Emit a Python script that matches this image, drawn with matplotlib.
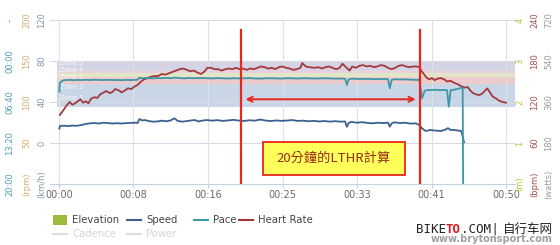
import matplotlib
matplotlib.use("Agg")
import matplotlib.pyplot as plt
from matplotlib.lines import Line2D
from matplotlib.patches import Rectangle
from matplotlib.transforms import blended_transform_factory

# ----------------------------------------
#  Data (time in minutes)
# ----------------------------------------
hr_t = [0.1, 0.5, 0.8, 1.2, 1.5, 1.8, 2.1, 2.4, 2.7, 3.0, 3.3, 3.6, 4.0, 4.3, 4.6,
        5.0, 5.3, 5.7, 6.0, 6.3, 6.7, 7.0, 7.4, 7.7, 8.1, 8.5, 8.8, 9.1, 9.5, 9.9,
        10.3, 10.7, 11.1, 11.5, 11.9, 12.3, 12.7, 13.1, 13.5, 13.9, 14.3, 14.7, 15.1,
        15.5, 15.9, 16.3, 16.6, 17.0, 17.4, 17.8, 18.2, 18.6, 19.0, 19.4, 19.8, 20.2,
        20.6, 21.0, 21.4, 21.8, 22.2, 22.6, 23.0, 23.4, 23.8, 24.2, 24.6, 25.0, 25.4,
        25.8, 26.2, 26.6, 27.0, 27.2, 27.6, 28.0, 28.6, 29.0, 29.4, 29.8, 30.2, 30.6,
        31.0, 31.4, 31.7, 32.1, 32.5, 32.8, 33.2, 33.6, 34.0, 34.4, 34.8, 35.2, 35.6,
        36.0, 36.4, 36.8, 37.2, 37.6, 38.0, 38.4, 38.8, 39.2, 39.6, 40.0, 40.3, 40.5,
        40.8, 41.1, 41.4, 41.7, 42.0, 42.3, 42.7, 43.1, 43.4, 43.8, 44.2, 44.6, 45.0,
        45.4, 45.7, 46.0, 46.3, 46.7, 47.0, 47.3, 47.6, 47.9, 48.2, 48.5, 48.9, 49.2,
        49.6, 50.0]
hr_bpm = [101, 108, 114, 120, 116, 118, 121, 124, 119, 121, 118, 125, 127, 126, 131,
          134, 136, 133, 135, 139, 137, 134, 137, 140, 139, 143, 145, 149, 153, 155,
          157, 158, 158, 161, 160, 162, 164, 166, 168, 169, 167, 165, 166,
          163, 161, 165, 170, 170, 168, 168, 166, 168, 169, 168, 170, 168,
          169, 167, 169, 168, 170, 172, 171, 169, 170, 168, 171, 172, 170,
          169, 167, 168, 170, 177, 172, 171, 170, 171, 169, 171, 172, 170,
          168, 170, 176, 171, 166, 172, 170, 173, 174, 172, 173, 171, 172,
          174, 173, 170, 168, 170, 173, 174, 172, 171, 172, 172, 171, 166,
          161, 156, 153, 155, 152, 154, 155, 153, 150, 151, 148, 146, 143,
          141, 142, 137, 133, 131, 130, 132, 136, 140, 134, 128, 125, 122,
          120, 119]

pace_t = [0.05, 0.1, 0.4, 0.8, 1.2, 1.6, 2.0, 2.5, 3.0, 3.5, 4.0, 4.5, 5.0, 5.5, 6.0,
          6.5, 7.0, 7.5, 8.0, 8.5, 8.8, 9.0, 9.3, 9.6, 10.0, 10.5, 11.0, 11.5, 12.0,
          12.5, 13.0, 13.5, 14.0, 14.5, 15.0, 15.5, 16.0, 16.5, 17.1, 17.7, 18.3, 18.9,
          19.5, 20.1, 20.7, 21.3, 21.9, 22.5, 23.1, 23.7, 24.3, 24.9, 25.5, 26.1, 26.7,
          27.3, 27.9, 28.5, 29.1, 29.7, 30.3, 30.9, 31.5, 32.0, 32.2, 32.4, 32.7, 33.3,
          33.9, 34.5, 35.1, 35.7, 36.3, 36.8, 37.0, 37.2, 37.5, 38.1, 38.7, 39.3, 39.9,
          40.2, 40.3, 40.6, 40.9, 41.2, 41.6, 42.0, 42.5, 43.0, 43.4, 43.6, 43.8, 44.2,
          44.6, 45.0, 45.15, 45.2]
pace_s = [300, 215, 190, 186, 184, 187, 185, 186, 184, 186, 183, 185, 186, 184, 186,
          185, 187, 185, 186, 184, 183, 162, 170, 166, 168, 170, 166, 168, 165,
          168, 162, 166, 170, 166, 168, 167, 166, 168, 170, 167, 169, 171,
          168, 170, 169, 167, 170, 172, 169, 168, 170, 171, 168, 169, 171,
          168, 169, 171, 170, 168, 170, 172, 171, 173, 232, 180, 172, 174,
          176, 174, 176, 178, 175, 177, 266, 185, 178, 180, 179, 182, 184,
          185, 175, 364, 290, 283, 285, 280, 284, 282, 285, 446, 285, 280,
          272, 262, 262, 1190]

speed_t = [0.05, 0.1, 0.5, 1.0, 1.5, 2.0, 2.5, 3.0, 3.5, 4.0, 4.5, 5.0, 5.5, 6.0, 6.5,
           7.0, 7.5, 8.0, 8.5, 8.8, 9.0, 9.3, 9.6, 10.0, 10.5, 11.0, 11.5, 12.0, 12.5,
           12.9, 13.3, 13.8, 14.3, 14.8, 15.2, 15.6, 16.0, 16.5, 17.1, 17.7, 18.3, 18.9,
           19.5, 20.1, 20.7, 21.3, 21.9, 22.5, 23.1, 23.7, 24.3, 24.9, 25.5, 26.1, 26.7,
           27.3, 27.9, 28.5, 29.1, 29.7, 30.3, 30.9, 31.5, 32.0, 32.2, 32.4, 32.7, 33.3,
           33.9, 34.5, 35.1, 35.7, 36.3, 36.8, 37.0, 37.2, 37.5, 38.1, 38.7, 39.3, 39.9,
           40.3, 40.6, 41.0, 41.5, 42.0, 42.7, 43.2, 43.5, 43.8, 44.2, 44.6, 45.0, 45.3]
speed_kmh = [14.0, 16.5, 16.9, 16.5, 17.0, 16.8, 17.5, 18.6, 19.2, 19.5, 19.0, 19.8, 19.4,
             19.0, 19.3, 19.0, 19.4, 19.6, 19.8, 19.5, 23.4, 22.0, 22.4, 21.5, 20.8, 21.0,
             21.8, 21.2, 22.0, 24.1, 21.5, 20.8, 21.4, 22.0, 22.4, 21.0, 21.8, 22.4, 21.8,
             22.3, 21.6, 22.0, 22.6, 21.9, 21.5, 22.2, 21.8, 22.9, 21.9, 21.4, 22.0, 21.6,
             21.9, 22.4, 21.5, 21.8, 21.2, 21.6, 21.0, 21.4, 20.9, 21.3, 20.8, 21.0, 15.9,
             19.5, 20.6, 19.8, 20.3, 19.6, 19.2, 19.8, 19.4, 19.9, 15.9, 19.0, 20.2, 19.5,
             19.8, 18.9, 19.2, 17.6, 14.3, 11.7, 12.7, 12.2, 11.7, 13.0, 14.5, 12.7, 12.7,
             12.2, 11.7, 0.7]

# heart rate zones (bpm)
zone_names = ["Zone 1", "Zone 2", "Zone 3", "Zone 4", "Zone 5"]
zone_low = [113, 147, 156, 163, 167]
zone_high = [147, 156, 163, 167, 178]
zone_colors = ["#c9d6e8", "#eecbcd", "#e3e6c6", "#e4d3de", "#d5d4e7"]
zone_label_y = [126, 142, 156.6, 166.8, 177]

# axis ticks
time_ticks = [0, 8.333, 16.667, 25, 33.333, 41.667, 50]
time_labels = ["00:00", "00:08", "00:16", "00:25", "00:33", "00:41", "00:50"]
pace_ticks = [-400, 0, 400, 800, 1200]
pace_labels = ["-", "00:00", "06:40", "13:20", "20:00"]
cad_ticks = [0, 50, 100, 150, 200]
cad_labels = ["(rpm)", "50", "100", "150", "200"]
speed_ticks = [-40, 0, 40, 80, 120]
speed_labels = ["(km/h)", "0", "40", "80", "120"]
elev_ticks = [0, 1, 2, 3, 4]
elev_labels = ["(m)", "1", "2", "3", "4"]
hr_ticks = [0, 60, 120, 180, 240]
hr_labels = ["(bpm)", "60", "120", "180", "240"]
watt_ticks = [0, 180, 360, 540, 720]
watt_labels = ["(watts)", "180", "360", "540", "720"]

# LTHR window
lthr_start = 20.35
lthr_end = 40.4

C_SPEED = "#3b6190"
C_PACE = "#3a98a8"
C_HR = "#a23a3d"
C_ELEV = "#9dbb3a"
C_RED = "#e8261e"
W, H = 560, 245


def fx(x):
    return x / W


def fy(y):
    return 1 - y / H


fig = plt.figure(figsize=(W / 100, H / 100), dpi=100)
ax = fig.add_axes([fx(50), fy(184), (515 - 50) / W, (184 - 20) / H])
ax.set_xlim(-1.0, 51.0)
ax.set_ylim(0, 240)

ax_speed = ax.twinx()
ax_speed.set_ylim(-40, 120)
ax_pace = ax.twinx()
ax_pace.set_ylim(1200, -400)
ax_cad = ax.twinx()
ax_cad.set_ylim(0, 200)
ax_elev = ax.twinx()
ax_elev.set_ylim(0, 4)
ax_watt = ax.twinx()
ax_watt.set_ylim(0, 720)
ax_top = ax.twinx()
ax_top.set_ylim(0, 240)

for a in [ax, ax_speed, ax_pace, ax_cad, ax_elev, ax_watt, ax_top]:
    for s in a.spines.values():
        s.set_visible(False)
    a.set_yticks([])

# zone bands
for lo, hi, c in zip(zone_low, zone_high, zone_colors):
    ax.axhspan(lo, hi, xmin=0.015, xmax=1, color=c, lw=0, zorder=0)
for name, yv in zip(zone_names, zone_label_y):
    ax.text(0.15, yv, name, color="white", alpha=0.85, fontsize=4.8, ha="left",
            va="center", zorder=1)

# grid
for yv in hr_ticks[1:]:
    ax.axhline(yv, color="#d6dbe1", lw=0.8, zorder=0.5)
for xv in time_ticks:
    ax.axvline(xv, color="#dde1e6", lw=0.8, zorder=0.5)
ax.spines["bottom"].set_visible(True)
ax.spines["bottom"].set_color("#c4d2df")
ax.set_xticks(time_ticks)
ax.set_xticklabels(time_labels)
ax.tick_params(axis="x", length=3, color="#c4d2df", labelsize=7,
               labelcolor="#6a6a6a", pad=1.5)

# series
ax.plot(hr_t, hr_bpm, color=C_HR, lw=1.3, zorder=3)
ax_speed.plot(speed_t, speed_kmh, color=C_SPEED, lw=1.3)
ax_pace.plot(pace_t, pace_s, color=C_PACE, lw=1.3)

# axis label columns (rotated)
columns = [
    (ax_pace, pace_ticks, pace_labels, 10, "#4f9cad"),
    (ax_cad, cad_ticks, cad_labels, 27, "#d9ad72"),
    (ax_speed, speed_ticks, speed_labels, 42, "#8199ad"),
    (ax_elev, elev_ticks, elev_labels, 520, "#b9c43c"),
    (ax_top, hr_ticks, hr_labels, 535, "#a5504f"),
    (ax_watt, watt_ticks, watt_labels, 549, "#9a9aa4"),
]
for a, ticks, labels, xpix, col in columns:
    tr = blended_transform_factory(fig.transFigure, a.transData)
    for tv, lab in zip(ticks, labels):
        a.text(fx(xpix), tv, lab, transform=tr, rotation=90, ha="center",
               va="center", fontsize=6, color=col, clip_on=False)

# LTHR annotation
ax_top.axvline(lthr_start, ymin=0, ymax=225 / 240, color=C_RED, lw=1.6)
ax_top.axvline(lthr_end, ymin=0, ymax=225 / 240, color=C_RED, lw=1.6)
ax_top.annotate("", xy=(lthr_start + 0.2, 124), xytext=(lthr_end - 0.2, 124),
                arrowprops=dict(arrowstyle="<->", color=C_RED, lw=1.4,
                                mutation_scale=9))
ax_top.add_patch(Rectangle((22.8, 13.5), 15.9, 48, facecolor="#ffff5c",
                           edgecolor=C_RED, lw=1.3))
ax_top.text(30.75, 37.5, "20分鐘的LTHR計算", ha="center", va="center",
            fontsize=9.5, color="#9a2a12",
            family=["Noto Sans CJK TC", "DejaVu Sans"])

# legend
row1, row2 = 220, 234
fig.add_artist(Rectangle((fx(53), fy(224.5)), 14 / W, 9.5 / H, transform=fig.transFigure,
                         facecolor=C_ELEV, edgecolor="none"))
legend_items = [
    (127, row1, C_SPEED, "Speed", "#444444"),
    (194, row1, C_PACE, "Pace", "#444444"),
    (239, row1, C_HR, "Heart Rate", "#444444"),
    (53, row2, "#dddddd", "Cadence", "#d4d4d4"),
    (127, row2, "#dddddd", "Power", "#d4d4d4"),
]
fig.text(fx(72), fy(row1), "Elevation", fontsize=7.3, color="#444444", va="center")
for x0, yy, lc, lab, tc in legend_items:
    fig.add_artist(Line2D([fx(x0), fx(x0 + 14)], [fy(yy), fy(yy)],
                          transform=fig.transFigure, color=lc, lw=1.5))
    fig.text(fx(x0 + 19), fy(yy), lab, fontsize=7.3, color=tc, va="center")

# watermark
fig.text(fx(416), fy(229), "BIKE", fontsize=9, family="DejaVu Sans Mono",
         color="#222222", va="center")
fig.text(fx(446), fy(229), "TO", fontsize=9, family="DejaVu Sans Mono",
         color="#d42020", weight="bold", va="center")
fig.text(fx(461), fy(229), ".COM", fontsize=9, family="DejaVu Sans Mono",
         color="#222222", va="center")
fig.text(fx(495), fy(229), "|", fontsize=9, color="#222222", va="center",
         ha="center")
fig.text(fx(553), fy(229), "自行车网", fontsize=9, color="#222222", va="center",
         ha="right", family=["Noto Sans CJK SC", "DejaVu Sans"])
fig.text(fx(553), fy(239), "www.brytonsport.com", fontsize=7, color="#a0a0a0",
         va="center", ha="right", weight="bold")

fig.savefig("out.png", dpi=100)
